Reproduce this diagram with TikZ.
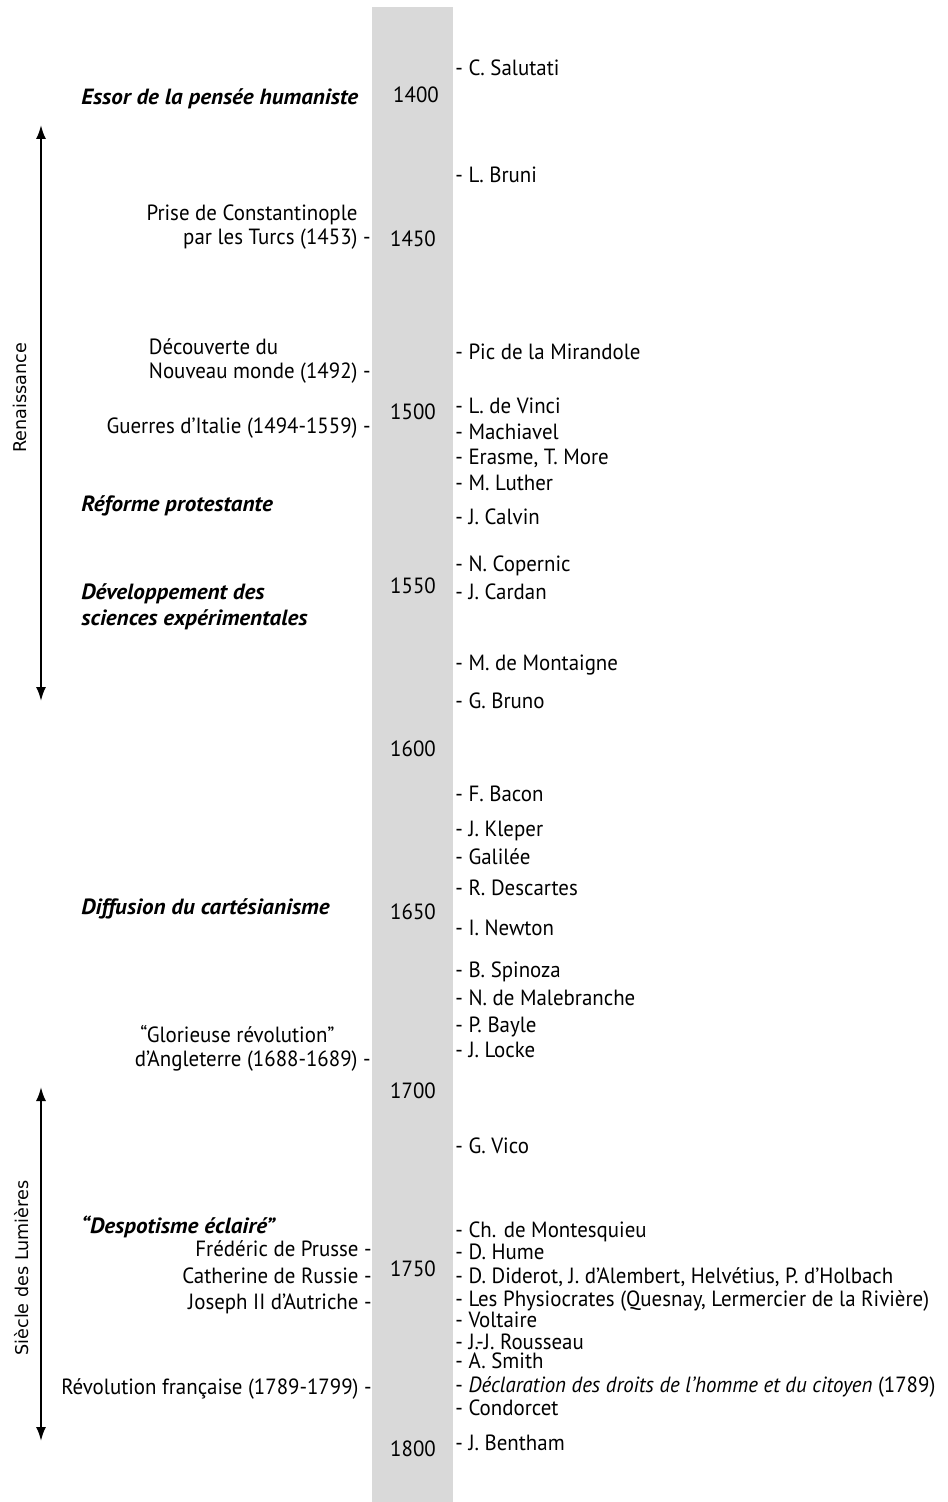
\documentclass[tikz,border=0pt]{standalone}
\usepackage{fontspec}
\setmainfont{PT Sans}[FakeStretch=0.95]
\newfontfamily\hdfont{PT Sans}[FakeStretch=1.05]
\newfontfamily\vfont{DejaVu Sans}
\usetikzlibrary{arrows.meta}
\definecolor{band}{HTML}{D9D9D9}
\begin{document}
\begin{tikzpicture}[x=0.5pt,y=-0.5pt,
  every node/.style={inner sep=0pt, font=\fontsize{11}{12}\selectfont},
  yr/.style={anchor=center},
  rt/.style={anchor=mid west},
  lt/.style={anchor=mid east, align=right},
  ltl/.style={anchor=east, align=left},
  ltr/.style={anchor=east, align=right},
  hd/.style={anchor=mid west, align=left, font=\fontsize{11}{12.5}\selectfont\hdfont\bfseries\itshape},
  hd2/.style={anchor=west, align=left, font=\fontsize{11}{13}\selectfont\hdfont\bfseries\itshape},
  era/.style={line width=1pt, {Latex[length=7pt,width=5pt]}-{Latex[length=7pt,width=5pt]}},
  eralabel/.style={rotate=90, font=\fontsize{8.8}{10}\selectfont\vfont}
]
\useasboundingbox (0,0) rectangle (947,1502);
\fill[band] (372,7) rectangle (453,1502);

% years
\node[yr] (y1400) at (416,95) {1400};
\node[yr] (y1450) at (413,239) {1450};
\node[yr] (y1500) at (413,412) {1500};
\node[yr] (y1550) at (413,586) {1550};
\node[yr] (y1600) at (413,749) {1600};
\node[yr] (y1650) at (413,912) {1650};
\node[yr] (y1700) at (413,1091) {1700};
\node[yr] (y1750) at (413,1269) {1750};
\node[yr] (y1800) at (413,1449) {1800};

% right column
\node[rt] (r01) at (455,71) {- C. Salutati};
\node[rt] (r02) at (455,178) {- L. Bruni};
\node[rt] (r03) at (455,355) {- Pic de la Mirandole};
\node[rt] (r04) at (455,409) {- L. de Vinci};
\node[rt] (r05) at (455,434) {- Machiavel};
\node[rt] (r06) at (455,459) {- Erasme, T. More};
\node[rt] (r07) at (455,485) {- M. Luther};
\node[rt] (r08) at (455,519) {- J. Calvin};
\node[rt] (r09) at (455,566) {- N. Copernic};
\node[rt] (r10) at (455,594) {- J. Cardan};
\node[rt] (r11) at (455,665) {- M. de Montaigne};
\node[rt] (r12) at (455,703) {- G. Bruno};
\node[rt] (r13) at (455,796) {- F. Bacon};
\node[rt] (r14) at (455,831) {- J. Kleper};
\node[rt] (r15) at (455,859) {- Galilée};
\node[rt] (r16) at (455,890) {- R. Descartes};
\node[rt] (r17) at (455,930) {- I. Newton};
\node[rt] (r18) at (455,972) {- B. Spinoza};
\node[rt] (r19) at (455,1000) {- N. de Malebranche};
\node[rt] (r20) at (455,1027) {- P. Bayle};
\node[rt] (r21) at (455,1052) {- J. Locke};
\node[rt] (r22) at (455,1148) {- G. Vico};
\node[rt] (r23) at (455,1232) {- Ch. de Montesquieu};
\node[rt] (r24) at (455,1254) {- D. Hume};
\node[rt] (r25) at (455,1278) {- D. Diderot, J. d’Alembert, Helvétius, P. d’Holbach};
\node[rt] (r26) at (455,1301) {- Les Physiocrates (Quesnay, Lermercier de la Rivière)};
\node[rt] (r27) at (455,1322) {- Voltaire};
\node[rt] (r28) at (455,1344) {- J.-J. Rousseau};
\node[rt] (r29) at (455,1363) {- A. Smith};
\node[rt] (r30) at (455,1387) {- \textit{Déclaration des droits de l’homme et du citoyen} (1789)};
\node[rt] (r31) at (455,1410) {- Condorcet};
\node[rt] (r32) at (455,1445) {- J. Bentham};

% left column events
\node[ltr] (l01) at (371,227) {Prise de Constantinople\phantom{ -}\\par les Turcs (1453) -};
\node[ltl] (l02) at (371,361) {Découverte du\\Nouveau monde (1492) -};
\node[lt] (l03) at (371,428) {Guerres d’Italie (1494-1559) -};
\node[ltl] (l04) at (371,1048) {\ “Glorieuse révolution”\\d’Angleterre (1688-1689) -};
\node[lt] (l05) at (372,1251) {Frédéric de Prusse -};
\node[lt] (l06) at (372,1278) {Catherine de Russie -};
\node[lt] (l07) at (372,1304) {Joseph II d’Autriche -};
\node[lt] (l08) at (372,1389) {Révolution française (1789-1799) -};

% headings
\node[hd] (h1) at (81,100) {Essor de la pensée humaniste};
\node[hd] (h2) at (81,506) {Réforme protestante};
\node[hd2] (h3) at (81,607) {Développement des\\sciences expérimentales};
\node[hd] (h4) at (81,909) {Diffusion du cartésianisme};
\node[hd] (h5) at (81,1228) {“Despotisme éclairé”};

% eras
\coordinate (renTop) at (41,125);
\coordinate (renBot) at (41,701);
\draw[era] (renTop) -- (renBot);
\node[eralabel] (ren) at (20,398) {Renaissance};
\coordinate (lumTop) at (41,1087);
\coordinate (lumBot) at (41,1441);
\draw[era] (lumTop) -- (lumBot);
\node[eralabel] (lum) at (22,1268) {Siècle des Lumières};
\end{tikzpicture}
\end{document}
